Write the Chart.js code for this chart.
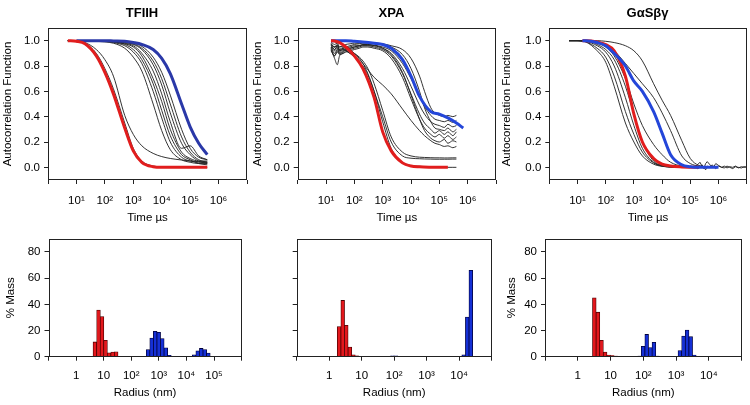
<!DOCTYPE html>
<html><head><meta charset="utf-8">
<script src="https://cdn.jsdelivr.net/npm/chart.js@4.4.0/dist/chart.umd.min.js"></script>
<style>
html,body{margin:0;padding:0;background:#fff;overflow:hidden;width:750px;height:405px;}
#wrap{position:relative;width:750px;height:405px;overflow:hidden;background:#fff;}
canvas{position:absolute;}
</style></head><body><div id="wrap"></div>
<script>
// ---------- tick values / labels ----------
const timeTicks = [1, 10, 100, 1e3, 1e4, 1e5, 1e6, 1e7];
const timeTickLabels = ['', '10¹', '10²', '10³', '10⁴', '10⁵', '10⁶', ''];
const radiusTicks6 = [0.1, 1, 10, 100, 1e3, 1e4, 1e5, 1e6];
const radiusLabels6 = ['', '1', '10', '10²', '10³', '10⁴', '10⁵', ''];
const radiusTicks5 = [0.1, 1, 10, 100, 1e3, 1e4, 1e5];
const radiusLabels5 = ['', '1', '10', '10²', '10³', '10⁴', ''];
const acfTicks = [0, 0.2, 0.4, 0.6, 0.8, 1.0];
const massTicks = [0, 20, 40, 60, 80];

// ---------- TFIIH autocorrelation ----------
const tfiihTime = [5, 10, 20, 50, 100, 200, 500, 1e3, 2e3, 5e3, 1e4, 2e4, 5e4, 1e5, 2e5, 4e5];
const tfiihRed  = [1.0, 0.995, 0.975, 0.88, 0.75, 0.58, 0.31, 0.13, 0.04, 0.005, 0, 0, 0, 0, 0, 0];
const tfiihBlue = [null, 1.0, 1.0, 1.0, 1.0, 0.998, 0.995, 0.985, 0.97, 0.93, 0.86, 0.74, 0.5, 0.32, 0.19, 0.1];
const tfiihBlack = [
  [1.0, 0.995, 0.98, 0.9, 0.78, 0.62, 0.35, 0.15, 0.05, 0.01, 0.003, 0, 0, 0, 0, 0],
  [1.0, 0.998, 0.985, 0.93, 0.85, 0.72, 0.41, 0.26, 0.17, 0.11, 0.085, 0.07, 0.058, 0.05, 0.045, 0.04],
  [1, 1, 1, 0.995, 0.99, 0.98, 0.94, 0.87, 0.76, 0.5, 0.29, 0.14, 0.06, 0.04, 0.03, 0.03],
  [1, 1, 1, 0.998, 0.995, 0.985, 0.96, 0.91, 0.82, 0.6, 0.39, 0.2, 0.08, 0.05, 0.04, 0.04],
  [1, 1, 1, 0.998, 0.995, 0.99, 0.97, 0.93, 0.85, 0.66, 0.45, 0.25, 0.1, 0.06, 0.03, 0.02],
  [1, 1, 1, 1, 0.998, 0.99, 0.975, 0.95, 0.88, 0.7, 0.52, 0.3, 0.12, 0.07, 0.05, 0.05],
  [1, 1, 1, 1, 0.998, 0.995, 0.98, 0.96, 0.9, 0.76, 0.58, 0.36, 0.15, 0.17, 0.09, 0.06],
  [1, 1, 1, 1, 1, 0.995, 0.985, 0.97, 0.93, 0.81, 0.65, 0.43, 0.19, 0.1, 0.05, 0.03],
  [1, 1, 1, 1, 1, 0.998, 0.99, 0.975, 0.94, 0.84, 0.7, 0.5, 0.24, 0.12, 0.06, 0.04],
  [1, 1, 1, 1, 1, 0.998, 0.99, 0.98, 0.955, 0.87, 0.75, 0.57, 0.3, 0.15, 0.08, 0.06]
];

// ---------- XPA autocorrelation ----------
const xpaRedTime = [15, 20, 30, 50, 100, 200, 500, 1e3, 2e3, 5e3, 1e4, 2e4, 5e4, 1e5, 2e5];
const xpaRed = [1.0, 0.998, 0.985, 0.95, 0.88, 0.78, 0.55, 0.28, 0.13, 0.035, 0.01, 0.004, 0.001, 0, 0];
const xpaBlueTime = [15, 50, 100, 200, 500, 1e3, 2e3, 5e3, 1e4, 2e4, 5e4, 1e5, 2e5, 4e5, 7e5];
const xpaBlue = [1.0, 1.0, 0.995, 0.99, 0.98, 0.97, 0.94, 0.85, 0.72, 0.56, 0.44, 0.42, 0.39, 0.35, 0.31];
const xpaBlackTime = [15, 20, 25, 30, 40, 50, 70, 100, 150, 200, 300, 500, 1e3, 2e3, 5e3, 1e4, 2e4, 3e4, 5e4, 7e4, 1e5, 1.5e5, 2e5, 3e5, 4e5];
const xpaBlack = [
  [0.99,0.97,0.98,0.95,0.96,0.94,0.93,0.9,0.86,0.82,0.74,0.6,0.36,0.15,0.04,0.015,0.008,0.005,0.003,0.002,0.001,0,0,0,0],
  [0.98,0.95,0.97,0.93,0.95,0.94,0.92,0.9,0.87,0.84,0.78,0.66,0.45,0.24,0.12,0.09,0.08,0.078,0.076,0.075,0.075,0.074,0.074,0.075,0.075],
  [0.97,0.93,0.96,0.92,0.93,0.92,0.9,0.87,0.83,0.8,0.73,0.6,0.4,0.2,0.09,0.072,0.068,0.066,0.065,0.064,0.064,0.064,0.064,0.065,0.065],
  [0.97,0.95,0.96,0.93,0.94,0.92,0.9,0.88,0.85,0.82,0.77,0.71,0.65,0.58,0.46,0.37,0.29,0.25,0.21,0.19,0.18,0.165,0.17,0.155,0.165],
  [0.96,0.93,0.95,0.92,0.94,0.95,0.96,0.97,0.975,0.98,0.98,0.98,0.975,0.96,0.93,0.86,0.72,0.6,0.47,0.43,0.41,0.4,0.41,0.4,0.41],
  [0.95,0.9,0.93,0.91,0.93,0.94,0.95,0.96,0.96,0.97,0.97,0.965,0.95,0.92,0.82,0.7,0.56,0.48,0.41,0.38,0.37,0.36,0.37,0.355,0.37],
  [0.94,0.88,0.92,0.9,0.92,0.93,0.94,0.95,0.96,0.96,0.96,0.96,0.94,0.9,0.78,0.64,0.49,0.42,0.36,0.34,0.33,0.315,0.34,0.32,0.33],
  [0.93,0.86,0.81,0.88,0.9,0.92,0.93,0.94,0.95,0.96,0.96,0.95,0.93,0.88,0.74,0.58,0.42,0.35,0.3,0.27,0.29,0.26,0.28,0.25,0.28],
  [0.92,0.88,0.91,0.89,0.9,0.91,0.92,0.93,0.94,0.95,0.95,0.94,0.92,0.86,0.71,0.54,0.38,0.31,0.26,0.24,0.26,0.23,0.25,0.22,0.24],
  [0.95,0.92,0.94,0.9,0.91,0.93,0.94,0.95,0.96,0.97,0.97,0.96,0.94,0.89,0.75,0.57,0.38,0.29,0.23,0.21,0.2,0.22,0.19,0.21,0.2],
  [0.97,0.95,0.96,0.95,0.96,0.97,0.975,0.98,0.98,0.985,0.985,0.98,0.97,0.95,0.89,0.78,0.6,0.47,0.36,0.31,0.3,0.29,0.31,0.28,0.3]
];

// ---------- GαSβγ autocorrelation ----------
const gTime = [5, 10, 15, 20, 50, 100, 200, 500, 1e3, 2e3, 5e3, 1e4, 2e4, 5e4, 1e5, 2e5, 5e5, 1e6];
const gRed  = [null, null, 1.0, 1.0, 0.99, 0.97, 0.92, 0.72, 0.42, 0.2, 0.07, 0.025, 0.01, 0.003, 0.001, 0, null, null];
const gBlue = [null, null, 1.0, 1.0, 0.985, 0.96, 0.9, 0.8, 0.68, 0.6, 0.44, 0.27, 0.1, 0.02, 0.005, 0, 0, 0];
const gBlack = [
  [1, 1, 0.995, 0.99, 0.92, 0.83, 0.64, 0.35, 0.2, 0.09, 0.025, 0.008, 0.002, 0, null, null, null, null],
  [1, 1, 0.995, 0.99, 0.94, 0.87, 0.72, 0.44, 0.26, 0.12, 0.035, 0.01, 0.003, 0, null, null, null, null],
  [1, 1, 1, 0.995, 0.96, 0.91, 0.8, 0.55, 0.33, 0.15, 0.04, 0.012, 0.003, 0, null, null, null, null],
  [1, 1, 1, 1, 0.97, 0.93, 0.85, 0.64, 0.42, 0.2, 0.05, 0.015, 0.004, 0, 0, null, null, null],
  [1, 1, 1, 1, 0.98, 0.95, 0.88, 0.7, 0.5, 0.33, 0.18, 0.1, 0.04, 0.01, 0.003, 0, null, null],
  [1, 1, 1, 1, 1, 0.995, 0.985, 0.96, 0.92, 0.84, 0.66, 0.53, 0.41, 0.21, 0.07, 0.015, 0, null],
  [1, 1, 1, 1, 0.99, 0.97, 0.92, 0.82, 0.74, 0.66, 0.55, 0.43, 0.29, 0.09, 0.03, 0.01, 0, null]
];
const gNoiseTime = [1e5, 1.4e5, 1.8e5, 2.2e5, 2.6e5, 3e5, 3.5e5, 4e5, 5e5, 6e5, 7e5, 8e5, 1e6, 1.3e6, 1.6e6, 2e6, 2.5e6, 3.2e6, 4e6, 5e6, 6.5e6, 8e6, 1e7];
const gNoiseA = [0.01, 0.0, 0.02, 0.04, 0.01, -0.01, 0.03, 0.045, 0.02, 0.0, 0.01, 0.03, 0.015, 0.0, 0.01, -0.005, 0.005, 0.0, 0.01, -0.005, 0.005, 0.0, 0.005];
const gNoiseB = [0.0, 0.01, -0.01, 0.0, 0.02, 0.0, -0.02, 0.01, 0.0, 0.02, 0.0, -0.01, 0.01, 0.0, -0.005, 0.01, 0.0, -0.01, 0.005, 0.0, -0.005, 0.005, 0.0];

// ---------- size distributions (% mass) ----------
const tfiihRedRadius = [4.8, 6.5, 8.7, 11.7, 15.7, 21.2, 28.4];
const tfiihRedMass   = [11.3, 35.7, 30.7, 12.6, 3, 3.5, 3.8];
const tfiihBlueRadius = [408, 548, 738, 991, 1334, 1791, 2410, 19100, 25650, 34500, 46360, 62400];
const tfiihBlueMass   = [5.5, 14.3, 19.4, 18.6, 13.8, 6.8, 1, 1.5, 4.5, 6.3, 5.5, 2.8];

const xpaRedRadius = [2.02, 2.61, 3.36, 4.33, 5.57, 7.18];
const xpaRedMass   = [23, 43, 24, 7.3, 1.5, 0.7];
const xpaBlueRadius = [88, 113, 13800, 17800, 22900];
const xpaBlueMass   = [0.6, 0.6, 1.5, 30.3, 66];

const gRedRadius = [3.2, 4.12, 5.31, 6.84, 8.81, 11.35, 14.6, 18.8];
const gRedMass   = [45, 34, 12.5, 3.5, 1.2, 0.8, 0.5, 0.3];
const gBlueRadius = [76.6, 98.6, 127, 164, 211, 272, 1309, 1687, 2173, 2800, 3606, 5990, 7720, 9930];
const gBlueMass   = [0.5, 8, 17, 7, 11, 0.5, 4.7, 15.8, 20.3, 15.3, 1.3, 0.3, 0.3, 0.3];

// ---------- helpers ----------
Chart.defaults.font.family = "'Liberation Sans', Arial, sans-serif";
Chart.defaults.font.size = 11.5;
Chart.defaults.color = '#000';

const wrap = document.getElementById('wrap');
function mkCanvas(L, T, W, H) {
  const c = document.createElement('canvas');
  c.width = W; c.height = H;
  c.style.left = L + 'px'; c.style.top = T + 'px';
  c.style.width = W + 'px'; c.style.height = H + 'px';
  wrap.appendChild(c);
  return c;
}
function pts(xs, ys) {
  const out = [];
  for (let i = 0; i < xs.length; i++) if (ys[i] !== null && ys[i] !== undefined) out.push({x: xs[i], y: ys[i]});
  return out;
}
function setTicks(vals) { return s => { s.ticks = vals.map(v => ({value: v})); }; }

const framePlugin = {
  id: 'frame',
  afterDatasetsDraw(chart) {
    const {ctx, chartArea: a} = chart;
    ctx.save();
    ctx.strokeStyle = '#222';
    ctx.lineWidth = 1;
    const l = Math.round(a.left) + 0.5, t = Math.round(a.top) + 0.5;
    const r = Math.round(a.right) - 0.5, b = Math.round(a.bottom) - 0.5;
    ctx.strokeRect(l, t, r - l, b - t);
    ctx.restore();
  }
};
const tickGrid = {display: true, drawOnChartArea: false, drawTicks: true, tickLength: 4, color: '#222', lineWidth: 1};

const RED = '#e11d1d', BLUE = '#2446d9', BLUE_DARK = '#2a38a8', BLACK = 'rgba(35,35,35,0.92)';

function lineDs(xs, ys, color, width, straight) {
  return {data: pts(xs, ys), borderColor: color, borderWidth: width, pointRadius: 0,
          cubicInterpolationMode: straight ? 'default' : 'monotone', tension: 0, fill: false};
}

function topChart(pos, title, datasets) {
  const c = mkCanvas(pos.L, 0, pos.W, 228);
  new Chart(c, {
    type: 'line',
    data: {datasets},
    options: {
      responsive: false, animation: false, events: [],
      layout: {padding: 0, autoPadding: false},
      plugins: {
        legend: {display: false}, tooltip: {enabled: false},
        title: {display: true, text: title, color: '#000', font: {size: 13, weight: 'bold'}, padding: {top: 6, bottom: 6.4}}
      },
      scales: {
        x: {type: 'logarithmic', min: 1, max: 1e7, afterBuildTicks: setTicks(timeTicks),
            afterFit: s => { s.height = 48; },
            grid: tickGrid, border: {display: false},
            ticks: {callback: (v, i) => timeTickLabels[i], autoSkip: false, maxRotation: 0, padding: 9.5},
            title: {display: true, text: 'Time µs', padding: {top: 0, bottom: 3.1}}},
        y: {type: 'linear', min: -0.1, max: 1.1, afterBuildTicks: setTicks(acfTicks),
            afterFit: s => { s.width = pos.left; },
            grid: tickGrid, border: {display: false},
            ticks: {callback: v => v.toFixed(1), padding: 4},
            title: {display: true, text: 'Autocorrelation Function', padding: {top: pos.tp, bottom: 0}}},
        yr: {type: 'linear', position: 'right', display: true,
             afterFit: s => { s.width = pos.W - pos.right; },
             grid: {display: false}, ticks: {display: false}, border: {display: false}}
      }
    },
    plugins: [framePlugin]
  });
}

function barChart(pos, xMax, xTicks, xLabels, redX, redY, blueX, blueY) {
  const c = mkCanvas(pos.L, 228, 250, 177);
  new Chart(c, {
    type: 'bar',
    data: {datasets: [
      {data: pts(redX, redY), backgroundColor: '#e3171c', borderColor: '#4a0000', borderWidth: 0.8, barThickness: 3.7, grouped: false},
      {data: pts(blueX, blueY), backgroundColor: '#1530d6', borderColor: '#00003a', borderWidth: 0.8, barThickness: 3.7, grouped: false}
    ]},
    options: {
      responsive: false, animation: false, events: [],
      layout: {padding: {top: 9.5, left: 0, bottom: 0, right: 250 - pos.right}, autoPadding: false},
      plugins: {legend: {display: false}, tooltip: {enabled: false}},
      scales: {
        x: {type: 'logarithmic', min: 0.1, max: xMax, offset: false, afterBuildTicks: setTicks(xTicks),
            afterFit: s => { s.height = 48.3; },
            grid: Object.assign({offset: false}, tickGrid), border: {display: false},
            ticks: {callback: (v, i) => xLabels[i], autoSkip: false, maxRotation: 0, padding: 8.4},
            title: {display: true, text: 'Radius (nm)', padding: {top: 0, bottom: 4.8}}},
        y: {type: 'linear', min: 0, max: 90, afterBuildTicks: setTicks(massTicks),
            afterFit: s => { s.width = pos.left; },
            grid: tickGrid, border: {display: false},
            ticks: {callback: v => pos.showY ? String(v) : '', padding: 4},
            title: {display: pos.showY, text: '% Mass', padding: {top: pos.tp, bottom: 0}}}
      }
    },
    plugins: [framePlugin]
  });
}

// ---------- build panels ----------
topChart({L: 0, W: 284, left: 48, right: 247, tp: 1}, 'TFIIH', [
  lineDs(tfiihTime, tfiihRed, RED, 3),
  lineDs(tfiihTime, tfiihBlue, BLUE_DARK, 3),
  ...tfiihBlack.map(v => lineDs(tfiihTime, v, BLACK, 1))
]);
topChart({L: 250, W: 283, left: 47.7, right: 246, tp: 1}, 'XPA', [
  lineDs(xpaRedTime, xpaRed, RED, 3),
  lineDs(xpaBlueTime, xpaBlue, BLUE, 3),
  ...xpaBlack.map(v => lineDs(xpaBlackTime, v, BLACK, 1))
]);
topChart({L: 500, W: 295, left: 49.3, right: 246.7, tp: 0}, 'GαSβγ', [
  lineDs(gTime, gBlue, BLUE, 3),
  lineDs(gTime, gRed, RED, 3),
  ...gBlack.map(v => lineDs(gTime, v, BLACK, 1)),
  lineDs(gNoiseTime, gNoiseA, BLACK, 1, true),
  lineDs(gNoiseTime, gNoiseB, BLACK, 1, true)
]);

barChart({L: 0, left: 48.5, right: 247.5, showY: true, tp: 4}, 1e6, radiusTicks6, radiusLabels6,
  tfiihRedRadius, tfiihRedMass, tfiihBlueRadius, tfiihBlueMass);
barChart({L: 250, left: 46.7, right: 245.5, showY: false, tp: 4}, 1e5, radiusTicks5, radiusLabels5,
  xpaRedRadius, xpaRedMass, xpaBlueRadius, xpaBlueMass);
barChart({L: 500, left: 45, right: 244, showY: true, tp: 5}, 1e5, radiusTicks5, radiusLabels5,
  gRedRadius, gRedMass, gBlueRadius, gBlueMass);
</script>
</body></html>
